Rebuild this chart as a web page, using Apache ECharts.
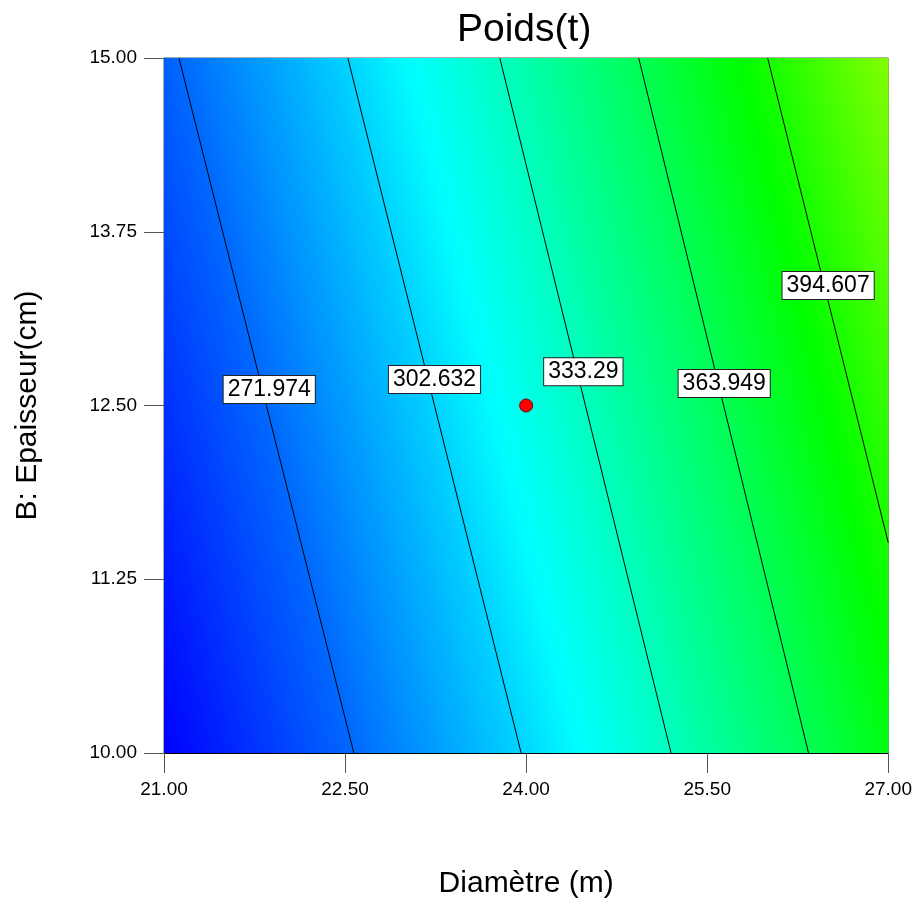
<!DOCTYPE html>
<html>
<head>
<meta charset="utf-8">
<title>Poids(t)</title>
<script src="https://cdn.jsdelivr.net/npm/echarts@6/dist/echarts.min.js"></script>
<style>
  html, body { margin: 0; padding: 0; background: #fff; }
  #chart { width: 915px; height: 904px; }
</style>
</head>
<body>
<div id="chart"></div>
<script>
// ---- axes ----
const diameterRange = [21, 27];
const thicknessRange = [10, 15];

// ---- contour levels of Poids (t) ----
const levels = [271.974, 302.632, 333.29, 363.949, 394.607];
// diameter where each contour meets the top edge (thickness = 15)
const contourTopD = [21.124, 22.523, 23.782, 24.933, 26.001];
// where each contour leaves the frame at its lower end [diameter, thickness]
const contourLowEnd = [[22.573, 10], [23.959, 10], [25.201, 10], [26.340, 10], [27, 11.514]];

// response at the lowest and highest corners of the region [diameter, thickness, value]
const lowCorner = [21, 10, 242.0];
const highCorner = [27, 15, 425.2];

// where each contour label sits
const labelD = [21.872, 23.241, 24.474, 25.641, 26.502];
const labelE = [12.615, 12.687, 12.742, 12.658, 13.364];

// design centre point
const centrePoint = [[24, 12.5]];

// colour ramp of the response
const rampValues = [242, 315, 388, 461, 534];
const rampColors = [[0, 0, 255], [0, 255, 255], [0, 255, 0], [255, 255, 0], [255, 0, 0]];

function rampColor(v) {
  const n = rampValues.length;
  if (v <= rampValues[0]) return 'rgb(' + rampColors[0].join(',') + ')';
  if (v >= rampValues[n - 1]) return 'rgb(' + rampColors[n - 1].join(',') + ')';
  let i = 0;
  while (v > rampValues[i + 1]) i++;
  const t = (v - rampValues[i]) / (rampValues[i + 1] - rampValues[i]);
  const a = rampColors[i], b = rampColors[i + 1];
  const c = a.map((x, k) => Math.round(x + (b[k] - x) * t));
  return 'rgb(' + c.join(',') + ')';
}

const [x0, x1] = diameterRange;
const [y0, y1] = thicknessRange;

// each contour as a straight segment across the frame
const contours = levels.map((v, i) => [[contourTopD[i], y1], contourLowEnd[i]]);

// lower end of a contour plus the frame corner that follows it, if any
function lowPath(end) {
  return (end[0] === x1 && end[1] > y0) ? [end, [x1, y0]] : [end];
}

// coloured bands between consecutive contours
const bands = [];
bands.push({
  poly: [[x0, y1], contours[0][0], contours[0][1], [x0, y0]],
  from: { point: [lowCorner[0], lowCorner[1]], value: lowCorner[2] },
  to: { line: contours[0], value: levels[0] },
  ref: [contours[0]]
});
for (let i = 1; i < levels.length; i++) {
  bands.push({
    poly: [contours[i - 1][0], contours[i][0], ...lowPath(contours[i][1]), contours[i - 1][1]],
    from: { line: contours[i - 1], value: levels[i - 1] },
    to: { line: contours[i], value: levels[i] },
    ref: [contours[i - 1], contours[i]]
  });
}
const last = contours[levels.length - 1];
bands.push({
  poly: [last[0], [x1, y1], last[1]],
  from: { line: last, value: levels[levels.length - 1] },
  to: { point: [highCorner[0], highCorner[1]], value: highCorner[2] },
  ref: [last]
});

function renderBand(params, api) {
  const b = bands[api.value(2)];
  const pts = b.poly.map(p => api.coord(p));
  // direction of the contours bounding the band, in pixels
  let dx = 0, dy = 0;
  b.ref.forEach(l => {
    const p = api.coord(l[0]), q = api.coord(l[1]);
    const ux = q[0] - p[0], uy = q[1] - p[1];
    const L = Math.hypot(ux, uy);
    dx += ux / L; dy += uy / L;
  });
  const L = Math.hypot(dx, dy);
  const nx = -dy / L, ny = dx / L;
  const anchor = g => {
    if (g.point) return api.coord(g.point);
    const p = api.coord(g.line[0]), q = api.coord(g.line[1]);
    return [(p[0] + q[0]) / 2, (p[1] + q[1]) / 2];
  };
  const P1 = anchor(b.from), P2 = anchor(b.to);
  const t = (P2[0] - P1[0]) * nx + (P2[1] - P1[1]) * ny;
  const E = [P1[0] + nx * t, P1[1] + ny * t];
  const N = 16, stops = [];
  for (let k = 0; k <= N; k++) {
    stops.push({ offset: k / N, color: rampColor(b.from.value + (b.to.value - b.from.value) * k / N) });
  }
  const grad = new echarts.graphic.LinearGradient(P1[0], P1[1], E[0], E[1], stops, true);
  return {
    type: 'polygon',
    shape: { points: pts },
    style: { fill: grad, stroke: grad, lineWidth: 0.6 },
    silent: true
  };
}

const font = '"Liberation Sans", Arial, sans-serif';
const chart = echarts.init(document.getElementById('chart'), null, { renderer: 'canvas' });

const series = [
  {
    type: 'custom',
    coordinateSystem: 'cartesian2d',
    renderItem: renderBand,
    data: bands.map((b, i) => [x0, y0, i]),
    encode: { x: 0, y: 1 },
    clip: true,
    silent: true,
    z: 1
  }
];
contours.forEach((c, i) => {
  series.push({
    type: 'line',
    data: c,
    symbol: 'none',
    lineStyle: { color: '#000', width: 1 },
    silent: true,
    z: 3
  });
});
series.push({
  type: 'scatter',
  data: levels.map((v, i) => [labelD[i], labelE[i], v]),
  symbolSize: 1,
  itemStyle: { color: 'rgba(0,0,0,0)', opacity: 1 },
  label: {
    show: true,
    position: 'inside',
    formatter: p => String(p.value[2]),
    fontFamily: font,
    fontSize: 23,
    lineHeight: 24,
    color: '#000',
    backgroundColor: '#ffffff',
    borderColor: '#222',
    borderWidth: 1,
    padding: [2, 4, 1, 4]
  },
  silent: true,
  z: 5
});
series.push({
  type: 'scatter',
  data: centrePoint,
  symbolSize: 13,
  itemStyle: { color: '#ff0000', borderColor: '#700000', borderWidth: 1, opacity: 1 },
  silent: true,
  z: 6
});

chart.setOption({
  animation: false,
  backgroundColor: '#fff',
  title: {
    text: 'Poids(t)',
    left: 452,
    top: 6,
    textStyle: { fontFamily: font, fontSize: 39, fontWeight: 'normal', color: '#000' }
  },
  grid: {
    left: 164, right: 26, top: 58, bottom: 150,
    show: true, borderColor: '#555', borderWidth: 1, backgroundColor: 'transparent'
  },
  xAxis: {
    type: 'value',
    min: diameterRange[0], max: diameterRange[1], interval: 1.5,
    name: 'Diamètre (m)',
    nameLocation: 'middle',
    nameGap: 116,
    nameTextStyle: { fontFamily: font, fontSize: 30, color: '#000' },
    axisLine: { show: true, lineStyle: { color: '#000', width: 1 } },
    axisTick: { show: true, inside: false, length: 20, lineStyle: { color: '#555' } },
    axisLabel: { formatter: v => v.toFixed(2), fontFamily: font, fontSize: 19, color: '#000', margin: 27 },
    splitLine: { show: false }
  },
  yAxis: {
    type: 'value',
    min: thicknessRange[0], max: thicknessRange[1], interval: 1.25,
    name: 'B: Epaisseur(cm)',
    nameLocation: 'middle',
    nameGap: 121,
    nameTextStyle: { fontFamily: font, fontSize: 30, color: '#000' },
    axisLine: { show: true, lineStyle: { color: '#333', width: 1 } },
    axisTick: { show: true, inside: false, length: 20, lineStyle: { color: '#555' } },
    axisLabel: { formatter: v => v.toFixed(2), fontFamily: font, fontSize: 19, color: '#000', margin: 27 },
    splitLine: { show: false }
  },
  series: series
});
</script>
</body>
</html>
